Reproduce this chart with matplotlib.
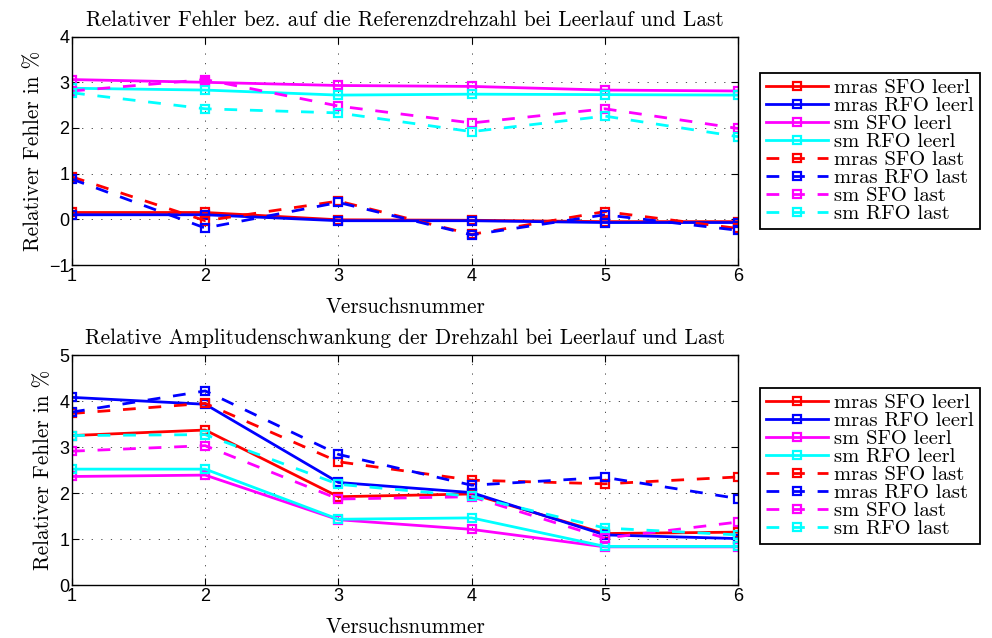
import matplotlib
matplotlib.use("Agg")
import matplotlib.pyplot as plt
import numpy as np

versuch = [1, 2, 3, 4, 5, 6]
labels = ["mras SFO leerl", "mras RFO leerl", "sm SFO leerl", "sm RFO leerl",
          "mras SFO last", "mras RFO last", "sm SFO last", "sm RFO last"]

# Relative error vs. reference speed
fehler_mras_sfo_leerl = [0.15, 0.15, -0.01, -0.02, -0.05, -0.05]
fehler_mras_rfo_leerl = [0.10, 0.10, -0.03, -0.03, -0.07, -0.07]
fehler_sm_sfo_leerl = [3.06, 3.00, 2.93, 2.91, 2.83, 2.81]
fehler_sm_rfo_leerl = [2.87, 2.83, 2.72, 2.74, 2.73, 2.72]
fehler_mras_sfo_last = [0.93, -0.03, 0.40, -0.33, 0.17, -0.20]
fehler_mras_rfo_last = [0.88, -0.19, 0.37, -0.34, 0.10, -0.24]
fehler_sm_sfo_last = [2.81, 3.06, 2.48, 2.11, 2.42, 1.99]
fehler_sm_rfo_last = [2.77, 2.42, 2.33, 1.92, 2.26, 1.81]

# Relative amplitude variation of the speed
ampl_mras_sfo_leerl = [3.25, 3.37, 1.92, 1.98, 1.12, 1.15]
ampl_mras_rfo_leerl = [4.08, 3.93, 2.23, 2.01, 1.09, 1.01]
ampl_sm_sfo_leerl = [2.36, 2.39, 1.42, 1.21, 0.83, 0.83]
ampl_sm_rfo_leerl = [2.52, 2.52, 1.43, 1.46, 0.84, 0.84]
ampl_mras_sfo_last = [3.73, 3.95, 2.68, 2.28, 2.20, 2.35]
ampl_mras_rfo_last = [3.76, 4.22, 2.84, 2.17, 2.34, 1.88]
ampl_sm_sfo_last = [2.91, 3.03, 1.87, 1.92, 1.02, 1.37]
ampl_sm_rfo_last = [3.25, 3.27, 2.19, 1.93, 1.24, 1.09]

fehler_series = [fehler_mras_sfo_leerl, fehler_mras_rfo_leerl, fehler_sm_sfo_leerl,
                 fehler_sm_rfo_leerl, fehler_mras_sfo_last, fehler_mras_rfo_last,
                 fehler_sm_sfo_last, fehler_sm_rfo_last]
ampl_series = [ampl_mras_sfo_leerl, ampl_mras_rfo_leerl, ampl_sm_sfo_leerl,
               ampl_sm_rfo_leerl, ampl_mras_sfo_last, ampl_mras_rfo_last,
               ampl_sm_sfo_last, ampl_sm_rfo_last]

colors = ["#ff0000", "#0000ff", "#ff00ff", "#00ffff"] * 2
styles = ["-"] * 4 + ["--"] * 4

serif = "cmr10"
tick_font = "Liberation Sans"
title_size = 15.3
txt_size = 14.8

fig = plt.figure(figsize=(9.92, 6.38), dpi=100)
ax_top = fig.add_axes([0.0726, 0.5846, 0.6714, 0.358])
ax_bot = fig.add_axes([0.0726, 0.083, 0.6714, 0.3605])


def draw(ax, series, ylim, yticks, title, legend_y):
    handles = []
    for vals, c, ls, lab in zip(series, colors, styles, labels):
        (h,) = ax.plot(versuch, vals, color=c, lw=2.0, ls=ls, marker="s",
                       markersize=5.5, markerfacecolor="none", markeredgewidth=1.6,
                       label=lab)
        if ls == "--":
            h.set_dashes((4.6, 4.6))
        handles.append(h)
    ax.set_xlim(1, 6)
    ax.set_ylim(*ylim)
    ax.set_xticks(versuch)
    ax.set_yticks(yticks)
    ax.set_xticklabels([str(v) for v in versuch], fontsize=13, family=tick_font)
    ax.set_yticklabels([str(v).replace("-", "\u2212") for v in yticks],
                       fontsize=13, family=tick_font)
    ax.tick_params(direction="in", length=5, width=0.8, top=True, right=True, pad=2)
    ax.grid(True, color="#333333", ls=(0, (1.5, 10)), lw=0.6)
    for s in ax.spines.values():
        s.set_linewidth(1.0)
    ax.set_title(title, family=serif, fontsize=title_size, pad=8)
    ax.set_xlabel("Versuchsnummer", family=serif, fontsize=title_size, labelpad=9)
    ax.set_ylabel("Relativer Fehler in %", family=serif, fontsize=title_size, labelpad=4)
    leg = fig.legend(handles=handles, loc="upper left",
                     bbox_to_anchor=(0.766, legend_y), bbox_transform=fig.transFigure,
                     prop={"family": serif, "size": txt_size}, handlelength=3.0,
                     handletextpad=0.3, labelspacing=-0.02, borderpad=0.3,
                     borderaxespad=0.0, fancybox=False, framealpha=1,
                     edgecolor="black")
    leg.get_frame().set_linewidth(1.3)


draw(ax_top, fehler_series, (-1, 4), [-1, 0, 1, 2, 3, 4],
     "Relativer Fehler bez. auf die Referenzdrehzahl bei Leerlauf und Last", 0.886)
draw(ax_bot, ampl_series, (0, 5), [0, 1, 2, 3, 4, 5],
     "Relative Amplitudenschwankung der Drehzahl bei Leerlauf und Last", 0.392)

fig.savefig("out.png", dpi=100)
